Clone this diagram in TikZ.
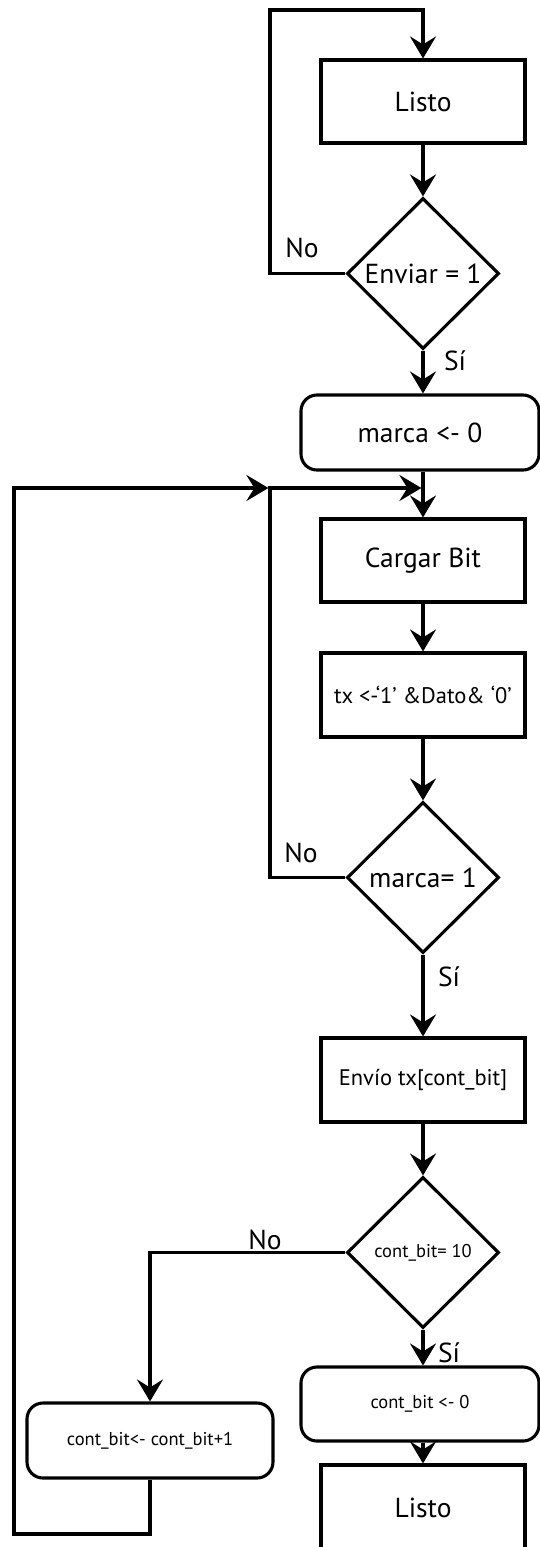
\documentclass[tikz,border=0pt]{standalone}
\usepackage{fontspec}
\setmainfont{PT Sans}
\usetikzlibrary{arrows.meta,shapes.geometric}
\begin{document}
\begin{tikzpicture}[x=1pt,y=-1pt,
  line width=3.1pt,
  flow/.style={-{Stealth[length=22pt,width=26pt,inset=8pt]}},
  big/.style={font=\fontsize{27.5}{32}\selectfont},
  mid/.style={font=\fontsize{22.5}{27}\selectfont},
  sml/.style={font=\fontsize{18.5}{22}\selectfont},
  proc/.style={draw, rectangle, minimum width=204pt, minimum height=83pt, inner sep=0pt, big},
  rproc/.style={draw, rectangle, rounded corners=16pt, minimum width=238pt, minimum height=75pt, inner sep=0pt, big},
  dec/.style={draw, diamond, minimum width=152pt, minimum height=151pt, inner sep=0pt, big},
  lbl/.style={inner sep=0pt, big}]
\useasboundingbox (0,0) rectangle (540,1547);

% nodes
\node[proc] (listo1) at (423,101.5) {Listo};
\node[dec] (d1) at (423,273.5) {Enviar = 1};
\node[rproc] (marca) at (420,432.5) {marca <- 0};
\node[proc] (cargar) at (423,560.5) {Cargar Bit};
\node[proc, minimum height=84pt, mid] (tx) at (423,695) {tx <-‘1’ \&Dato\& ‘0’};
\node[dec] (d2) at (423,877.5) {marca= 1};
\node[proc, minimum height=84pt, mid] (envio) at (423,1080) {Envío tx[cont\_bit]};
\node[dec, sml] (d3) at (423,1252.5) {cont\_bit= 10};
\node[rproc, minimum height=74pt, sml] (cb0) at (420,1404) {cont\_bit <- 0};
\node[proc, minimum height=85pt] (listo2) at (423,1507.5) {Listo};
\node[rproc, minimum width=246pt, sml] (cbinc) at (150,1440.5) {cont\_bit<- cont\_bit+1};

% labels
\node[lbl] (no1) at (302,248) {No};
\node[lbl] (si1) at (455,361) {Sí};
\node[lbl] (no2) at (301,853) {No};
\node[lbl] (si2) at (449,977) {Sí};
\node[lbl] (no3) at (265,1240) {No};
\node[lbl] (si3) at (449,1353) {Sí};

% helper coordinates
\coordinate (top) at (270,10);
\coordinate (m1) at (270,488);
\coordinate (m2) at (421.4,488);
\coordinate (m1a) at (268.4,488);
\coordinate (o1) at (14,1534);
\coordinate (o2) at (14,488);

% connectors
\draw[flow] (d1.west) -| (top) -| (listo1.north);
\draw[flow] (listo1.south) -- (d1.north);
\draw[flow] (d1.south) -- (marca.north -| d1.south);
\draw[flow] (marca.south -| cargar.north) -- (cargar.north);
\draw[flow] (d2.west) -| (m1) -- (m2);
\draw[flow] (cbinc.south) |- (o1) -- (o2) -- (m1a);
\draw[flow] (cargar.south) -- (tx.north);
\draw[flow] (tx.south) -- (d2.north);
\draw[flow] (d2.south) -- (envio.north);
\draw[flow] (envio.south) -- (d3.north);
\draw[flow] (d3.west) -| (cbinc.north);
\draw[flow] (d3.south) -- (cb0.north -| d3.south);
\draw[flow] (cb0.south -| listo2.north) -- (listo2.north);
\end{tikzpicture}
\end{document}
